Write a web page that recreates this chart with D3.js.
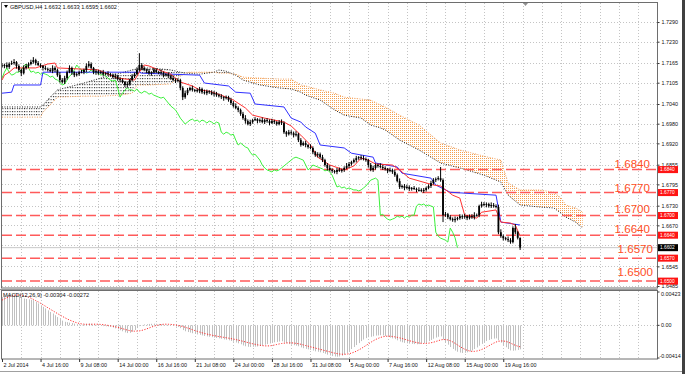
<!DOCTYPE html>
<html><head><meta charset="utf-8">
<script src="https://cdn.jsdelivr.net/npm/d3@7"></script>
<style>
body{margin:0;background:#fff;}
svg{display:block;font-family:"Liberation Sans",Arial,sans-serif;}
</style></head><body>
<svg id="c" width="685" height="374"></svg>
<script>
// ---------------- DATA ----------------
const symbolTitle = "GBPUSD,H4  1.6632 1.6633 1.6595 1.6602";
const macdTitle = "MACD(12,26,9) -0.00304 -0.00272";
const firstOpen = 1.7158;
const closes = [
1.7156,1.7159,1.7153,1.7162,1.7165,1.7168,1.7156,1.7144,1.7134,1.7150,1.7156,1.7162,
1.7168,1.7174,1.7165,1.7159,1.7156,1.7150,1.7147,1.7144,1.7140,1.7150,1.7144,1.7128,
1.7113,1.7107,1.7119,1.7137,1.7150,1.7137,1.7128,1.7131,1.7137,1.7137,1.7144,1.7156,
1.7162,1.7150,1.7137,1.7140,1.7134,1.7137,1.7131,1.7134,1.7131,1.7128,1.7122,1.7125,
1.7116,1.7113,1.7107,1.7098,1.7101,1.7113,1.7125,1.7131,1.7144,1.7159,1.7150,1.7144,
1.7140,1.7134,1.7137,1.7144,1.7137,1.7137,1.7134,1.7128,1.7131,1.7125,1.7119,1.7113,
1.7110,1.7113,1.7089,1.7061,1.7073,1.7083,1.7089,1.7083,1.7083,1.7079,1.7086,1.7076,
1.7073,1.7079,1.7076,1.7070,1.7073,1.7067,1.7064,1.7061,1.7058,1.7061,1.7052,1.7043,
1.7034,1.7028,1.7022,1.7010,1.6997,1.6988,1.6979,1.6985,1.6991,1.6994,1.6988,1.6991,
1.6985,1.6991,1.6988,1.6982,1.6988,1.6985,1.6979,1.6985,1.6982,1.6954,1.6948,1.6954,
1.6951,1.6945,1.6948,1.6930,1.6915,1.6921,1.6915,1.6909,1.6906,1.6893,1.6884,1.6887,
1.6878,1.6869,1.6854,1.6845,1.6839,1.6836,1.6833,1.6839,1.6836,1.6839,1.6845,1.6851,
1.6857,1.6863,1.6869,1.6875,1.6878,1.6875,1.6872,1.6869,1.6854,1.6839,1.6845,1.6854,
1.6851,1.6848,1.6845,1.6842,1.6836,1.6839,1.6833,1.6823,1.6805,1.6787,1.6790,1.6784,
1.6787,1.6781,1.6784,1.6781,1.6778,1.6778,1.6775,1.6778,1.6784,1.6790,1.6799,1.6808,
1.6811,1.6814,1.6808,1.6701,1.6704,1.6695,1.6689,1.6686,1.6689,1.6692,1.6698,1.6695,
1.6698,1.6692,1.6698,1.6695,1.6701,1.6701,1.6729,1.6735,1.6732,1.6735,1.6729,1.6732,
1.6729,1.6726,1.6649,1.6637,1.6631,1.6628,1.6625,1.6619,1.6662,1.6649,1.6632,1.6602];
// upper / lower shadow length beyond the body, in pips
const wickUp = [
6,4,8,5,7,9,3,5,4,8,6,5, 7,9,4,6,5,3,7,4,6,8,5,4, 9,6,7,5,8,4,3,6,5,7,4,8,
9,5,3,6,4,5,7,3,6,4,5,8, 4,6,5,3,7,4,6,5,8,36,6,5, 4,7,3,6,5,4,8,5,3,6,4,7,
5,6,4,5,8,6,4,7,3,5,6,4, 8,5,3,6,7,4,5,6,3,5,4,7, 6,8,5,4,6,9,5,7,4,6,3,5,
8,4,6,5,7,4,3,6,8,5,4,7, 6,5,9,4,6,5,7,3,8,5,4,6, 5,7,4,6,8,5,3,6,7,4,5,9,
6,4,5,7,3,6,8,5,4,6,7,5, 4,8,6,5,3,7,4,6,5,8,4,6, 7,5,3,6,4,8,5,6,4,5,7,6,
5,6,34,5,7,4,6,5,8,4,6,5, 7,3,5,6,9,5,4,7,6,5,4,8, 6,5,7,9,5,4,8,6,5,12,4,1];
const wickDn = [
5,7,4,6,3,5,8,6,9,4,5,6, 4,5,7,3,6,8,4,5,3,6,7,5, 7,4,6,5,3,8,6,4,5,3,6,7,
5,4,6,8,5,3,7,4,6,5,4,6, 5,7,4,6,8,5,4,6,3,5,7,4, 6,5,8,4,3,6,5,7,4,6,5,4,
6,4,7,9,5,6,4,5,7,4,6,5, 4,6,5,3,7,5,4,6,8,4,5,6, 5,4,7,6,5,8,4,6,5,3,7,5,
4,6,5,7,3,6,5,4,6,5,8,4, 5,7,4,6,5,3,7,5,4,6,5,7, 4,6,5,8,4,6,5,7,3,5,6,4,
6,5,4,7,5,6,4,5,8,4,6,5, 5,4,6,5,7,4,6,5,4,6,5,7, 4,6,5,3,7,5,4,6,5,4,6,5,
6,4,5,21,5,6,4,5,7,4,5,6, 5,6,4,5,7,4,6,5,4,7,5,6, 5,4,6,5,7,4,6,5,4,6,5,7];

// Ichimoku lines (bar index, price)
const tenkanIdx = [0,1,3,5,14,19,22,23,40,44,48,55,57,59,61,65,70,74,79,82,86,91,96,101,104,109,117,120,124,128,131,136,142,146,149,152,155,162,165,169,179,182,187,190,192,197,199,205,207,211,213,215];
const tenkanVal = [1.7113,1.7128,1.7137,1.7150,1.7150,1.7162,1.7165,1.7150,1.7144,1.7131,1.7119,1.7113,1.7137,1.7159,1.7156,1.7144,1.7131,1.7107,1.7095,1.7083,1.7079,1.7067,1.7052,1.7028,1.7006,1.6997,1.6985,1.6973,1.6945,1.6915,1.6878,1.6854,1.6839,1.6851,1.6875,1.6869,1.6857,1.6854,1.6839,1.6814,1.6793,1.6790,1.6762,1.6753,1.6701,1.6692,1.6710,1.6717,1.6680,1.6677,1.6671,1.6637];
const kijunIdx = [0,4,5,16,17,57,58,82,84,94,97,103,105,117,120,124,126,130,132,142,145,154,155,164,166,178,180,186,205,207,215];
const kijunVal = [1.7073,1.7076,1.7098,1.7098,1.7137,1.7137,1.7134,1.7128,1.7104,1.7095,1.7076,1.7073,1.7040,1.7031,1.6997,1.6985,1.6970,1.6951,1.6915,1.6906,1.6890,1.6878,1.6860,1.6848,1.6829,1.6814,1.6793,1.6771,1.6762,1.6680,1.6671];
const senkouIdx = [0,16,17,20,23,34,41,49,54,56,61,70,74,77,82,88,90,93,97,100,107,115,120,124,126,132,138,142,149,153,157,159,165,173,182,190,200,207,210,215,223,229,232,234,238,241];
const senkouA = [1.7031,1.7031,1.7037,1.7061,1.7083,1.7104,1.7119,1.7134,1.7144,1.7147,1.7150,1.7144,1.7137,1.7134,1.7131,1.7137,1.7144,1.7140,1.7128,1.7113,1.7098,1.7089,1.7086,1.7076,1.7067,1.7052,1.7022,1.7006,1.6997,1.6976,1.6967,1.6961,1.6930,1.6900,1.6860,1.6845,1.6823,1.6802,1.6762,1.6732,1.6726,1.6723,1.6707,1.6695,1.6680,1.6662];
const senkouB = [1.7000,1.7000,1.7015,1.7037,1.7061,1.7064,1.7064,1.7067,1.7073,1.7098,1.7098,1.7101,1.7125,1.7137,1.7137,1.7137,1.7134,1.7134,1.7131,1.7122,1.7119,1.7116,1.7116,1.7098,1.7095,1.7083,1.7073,1.7061,1.7055,1.7052,1.7037,1.7031,1.7006,1.6976,1.6921,1.6900,1.6881,1.6869,1.6799,1.6778,1.6778,1.6771,1.6753,1.6732,1.6723,1.6710];
const chikouShift = 26;

// MACD
const macdMain = [
0.00360,0.00372,0.00385,0.00395,0.00400,0.00392,0.00380,0.00362,0.00348,0.00340,0.00335,0.00330,
0.00325,0.00320,0.00300,0.00278,0.00255,0.00235,0.00215,0.00190,0.00170,0.00150,0.00128,0.00105,
0.00080,0.00060,0.00045,0.00040,0.00035,0.00030,0.00022,0.00015,0.00010,0.00008,0.00012,0.00020,
0.00025,0.00020,0.00012,0.00005,0.00000,-0.00005,-0.00010,-0.00012,-0.00015,-0.00020,-0.00028,-0.00038,
-0.00050,-0.00062,-0.00075,-0.00090,-0.00098,-0.00095,-0.00080,-0.00060,-0.00035,-0.00010,0.00005,0.00012,
0.00015,0.00018,0.00020,0.00022,0.00020,0.00018,0.00015,0.00012,0.00008,0.00004,0.00000,-0.00008,
-0.00015,-0.00020,-0.00035,-0.00060,-0.00075,-0.00085,-0.00092,-0.00100,-0.00108,-0.00115,-0.00120,-0.00128,
-0.00135,-0.00140,-0.00145,-0.00150,-0.00155,-0.00160,-0.00165,-0.00170,-0.00178,-0.00182,-0.00190,-0.00198,
-0.00208,-0.00218,-0.00228,-0.00240,-0.00255,-0.00265,-0.00272,-0.00275,-0.00272,-0.00270,-0.00268,-0.00262,
-0.00255,-0.00245,-0.00238,-0.00230,-0.00222,-0.00215,-0.00210,-0.00205,-0.00202,-0.00215,-0.00228,-0.00238,
-0.00245,-0.00252,-0.00258,-0.00265,-0.00280,-0.00290,-0.00298,-0.00305,-0.00312,-0.00320,-0.00330,-0.00335,
-0.00342,-0.00350,-0.00360,-0.00372,-0.00382,-0.00390,-0.00395,-0.00398,-0.00395,-0.00385,-0.00370,-0.00350,
-0.00325,-0.00300,-0.00275,-0.00250,-0.00225,-0.00200,-0.00180,-0.00162,-0.00150,-0.00145,-0.00138,-0.00130,
-0.00128,-0.00125,-0.00128,-0.00135,-0.00145,-0.00155,-0.00165,-0.00175,-0.00190,-0.00205,-0.00215,-0.00222,
-0.00228,-0.00232,-0.00235,-0.00238,-0.00240,-0.00238,-0.00232,-0.00225,-0.00215,-0.00200,-0.00185,-0.00170,
-0.00155,-0.00145,-0.00140,-0.00180,-0.00215,-0.00245,-0.00275,-0.00300,-0.00320,-0.00335,-0.00345,-0.00350,
-0.00348,-0.00342,-0.00332,-0.00318,-0.00300,-0.00280,-0.00258,-0.00235,-0.00215,-0.00198,-0.00185,-0.00175,
-0.00168,-0.00165,-0.00190,-0.00220,-0.00250,-0.00278,-0.00300,-0.00318,-0.00322,-0.00318,-0.00312,-0.00304];
const macdSignal = [
0.00320,0.00335,0.00350,0.00362,0.00372,0.00380,0.00384,0.00385,0.00382,0.00376,0.00368,0.00358,
0.00345,0.00330,0.00314,0.00298,0.00280,0.00262,0.00243,0.00224,0.00205,0.00187,0.00168,0.00150,
0.00132,0.00115,0.00098,0.00082,0.00068,0.00055,0.00043,0.00033,0.00025,0.00019,0.00015,0.00013,
0.00013,0.00014,0.00015,0.00015,0.00014,0.00012,0.00009,0.00005,0.00000,-0.00005,-0.00011,-0.00018,
-0.00025,-0.00033,-0.00042,-0.00051,-0.00060,-0.00067,-0.00072,-0.00074,-0.00073,-0.00070,-0.00064,-0.00055,
-0.00045,-0.00034,-0.00022,-0.00011,-0.00002,0.00005,0.00010,0.00014,0.00015,0.00014,0.00012,0.00009,
0.00005,0.00000,-0.00006,-0.00015,-0.00024,-0.00034,-0.00044,-0.00055,-0.00066,-0.00076,-0.00085,-0.00094,
-0.00102,-0.00110,-0.00117,-0.00124,-0.00130,-0.00136,-0.00142,-0.00147,-0.00152,-0.00157,-0.00162,-0.00168,
-0.00174,-0.00180,-0.00187,-0.00194,-0.00202,-0.00210,-0.00218,-0.00226,-0.00233,-0.00240,-0.00246,-0.00252,
-0.00257,-0.00260,-0.00261,-0.00260,-0.00256,-0.00250,-0.00243,-0.00236,-0.00230,-0.00226,-0.00223,-0.00222,
-0.00222,-0.00224,-0.00228,-0.00233,-0.00240,-0.00248,-0.00256,-0.00264,-0.00272,-0.00280,-0.00288,-0.00296,
-0.00304,-0.00312,-0.00320,-0.00328,-0.00336,-0.00344,-0.00352,-0.00358,-0.00363,-0.00366,-0.00367,-0.00365,
-0.00360,-0.00352,-0.00341,-0.00328,-0.00312,-0.00295,-0.00276,-0.00256,-0.00236,-0.00216,-0.00197,-0.00180,
-0.00166,-0.00154,-0.00145,-0.00139,-0.00137,-0.00138,-0.00141,-0.00146,-0.00152,-0.00159,-0.00167,-0.00176,
-0.00185,-0.00194,-0.00203,-0.00211,-0.00218,-0.00224,-0.00228,-0.00230,-0.00229,-0.00226,-0.00221,-0.00214,
-0.00205,-0.00195,-0.00185,-0.00180,-0.00180,-0.00185,-0.00195,-0.00210,-0.00228,-0.00248,-0.00268,-0.00287,
-0.00303,-0.00316,-0.00325,-0.00330,-0.00330,-0.00326,-0.00318,-0.00307,-0.00293,-0.00277,-0.00260,-0.00243,
-0.00226,-0.00212,-0.00202,-0.00198,-0.00198,-0.00203,-0.00212,-0.00225,-0.00240,-0.00253,-0.00264,-0.00272];

// levels, axes
const levels = [1.6840, 1.6770, 1.6700, 1.6640, 1.6570, 1.6500];
const levelLabels = ["1.6840","1.6770","1.6700","1.6640","1.6570","1.6500"];
const gridTicks = [1.7290,1.7230,1.7165,1.7105,1.7040,1.6980,1.6920,1.6855,1.6795,1.6730,1.6670,1.6610,1.6545,1.6485];
const priceTicks = [1.7290,1.7230,1.7165,1.7105,1.7040,1.6980,1.6920,1.6855,1.6795,1.6730,1.6670,1.6545,1.6485];
const lastPrice = 1.6602;
const macdTicks = [0.00423, 0, -0.00414];
const macdTickLabels = ["0.00423","0.00","-0.00414"];
const timeBars = [0,16,32,48,64,80,96,112,128,144,160,176,192,208];
const timeLabels = ["2 Jul 2014","4 Jul 16:00","9 Jul 08:00","14 Jul 00:00","16 Jul 16:00","21 Jul 08:00","24 Jul 00:00","28 Jul 16:00","31 Jul 08:00","5 Aug 00:00","7 Aug 16:00","12 Aug 08:00","15 Aug 00:00","19 Aug 16:00"];

// ---------------- LAYOUT ----------------
const L = 2, R = 657.5, T = 3, B = 288, mT = 291, mB = 359;
const svg = d3.select('#c');
const x = d3.scaleLinear().domain([0, 272]).range([L, R]);
const y = d3.scaleLinear().domain([1.6479, 1.7348]).range([B, T]);
const yM = d3.scaleLinear().domain([-0.00414, 0.00423]).range([358, 292]);

const opens = closes.map((c,i)=> i===0 ? firstOpen : closes[i-1]);
const bars = closes.map((c,i)=>{
  const o = opens[i];
  return {i, o, c, h: Math.max(o,c) + wickUp[i]*0.0001, l: Math.min(o,c) - wickDn[i]*0.0001};
});

const defs = svg.append('defs');
const pO = defs.append('pattern').attr('id','hatchO').attr('patternUnits','userSpaceOnUse').attr('width',2).attr('height',2);
pO.append('rect').attr('width',2).attr('height',2).attr('fill','#ffffff');
pO.append('rect').attr('width',1).attr('height',1).attr('fill','#f4a050');
const pK = defs.append('pattern').attr('id','hatchK').attr('patternUnits','userSpaceOnUse').attr('width',2.41).attr('height',3);
pK.append('rect').attr('width',1).attr('height',1.2).attr('fill','#333');

defs.append('clipPath').attr('id','clipMain').append('rect').attr('x',L).attr('y',T).attr('width',R-L).attr('height',B-T);
defs.append('clipPath').attr('id','clipMacd').append('rect').attr('x',L).attr('y',mT).attr('width',R-L).attr('height',mB-mT);
const cloud = senkouIdx.map((d,k)=>({i:d, a:senkouA[k], b:senkouB[k]}));
defs.append('clipPath').attr('id','clipAbove').append('path')
  .attr('d', d3.area().x(d=>x(d.i)).y0(T-5).y1(d=>y(d.b))(cloud));
defs.append('clipPath').attr('id','clipBelow').append('path')
  .attr('d', d3.area().x(d=>x(d.i)).y0(d=>y(d.b)).y1(B+5)(cloud));

svg.append('rect').attr('width',685).attr('height',374).attr('fill','#fff');

const gridColor = '#c4c4c4';
const vGrid = d3.range(8, 272, 8);
svg.append('g').selectAll('line').data(vGrid).join('line')
  .attr('x1',d=>Math.round(x(d))+0.5).attr('x2',d=>Math.round(x(d))+0.5).attr('y1',T).attr('y2',B)
  .attr('stroke',gridColor).attr('stroke-dasharray','1,2');
svg.append('g').selectAll('line').data(vGrid).join('line')
  .attr('x1',d=>Math.round(x(d))+0.5).attr('x2',d=>Math.round(x(d))+0.5).attr('y1',mT).attr('y2',mB)
  .attr('stroke',gridColor).attr('stroke-dasharray','1,2');
svg.append('g').selectAll('line').data(gridTicks).join('line')
  .attr('x1',L).attr('x2',R).attr('y1',d=>Math.round(y(d))+0.5).attr('y2',d=>Math.round(y(d))+0.5)
  .attr('stroke',gridColor).attr('stroke-dasharray','1,2');
svg.append('line').attr('x1',L).attr('x2',R).attr('y1',Math.round(yM(0))+0.5).attr('y2',Math.round(yM(0))+0.5)
  .attr('stroke',gridColor).attr('stroke-dasharray','1,2');

const main = svg.append('g').attr('clip-path','url(#clipMain)');
const abArea = d3.area().x(d=>x(d.i)).y0(d=>y(d.a)).y1(d=>y(d.b));
main.append('g').attr('clip-path','url(#clipAbove)').append('path').attr('d',abArea(cloud)).attr('fill','url(#hatchK)');
main.append('g').attr('clip-path','url(#clipBelow)').append('path').attr('d',abArea(cloud)).attr('fill','url(#hatchO)');
const lineIV = d3.line().x(d=>x(d[0])).y(d=>y(d[1]));
main.append('path').attr('d', lineIV(senkouIdx.map((d,k)=>[d,senkouB[k]])))
  .attr('fill','none').attr('stroke','#f4a460').attr('stroke-width',1).attr('stroke-dasharray','1,1.5');
main.append('path').attr('d', lineIV(senkouIdx.map((d,k)=>[d,senkouA[k]])))
  .attr('fill','none').attr('stroke','#222').attr('stroke-width',1).attr('stroke-dasharray','1,1.5');

main.append('g').selectAll('line').data(levels).join('line')
  .attr('x1',L).attr('x2',R).attr('y1',d=>y(d)).attr('y2',d=>y(d))
  .attr('stroke','#ff5a5a').attr('stroke-width',1.5).attr('stroke-dasharray','10,4');
main.append('line').attr('x1',L).attr('x2',R).attr('y1',y(lastPrice)).attr('y2',y(lastPrice))
  .attr('stroke','#c8c8c8').attr('stroke-width',1);

main.append('path').attr('d', lineIV(closes.slice(chikouShift).map((c,k)=>[k,c])))
  .attr('fill','none').attr('stroke','#3cf03c').attr('stroke-width',1);
main.append('path').attr('d', lineIV(kijunIdx.map((d,k)=>[d,kijunVal[k]])))
  .attr('fill','none').attr('stroke','#3030ff').attr('stroke-width',1);
main.append('path').attr('d', lineIV(tenkanIdx.map((d,k)=>[d,tenkanVal[k]])))
  .attr('fill','none').attr('stroke','#ff3030').attr('stroke-width',1);

const cg = main.append('g');
cg.selectAll('line').data(bars).join('line')
  .attr('x1',d=>x(d.i)).attr('x2',d=>x(d.i)).attr('y1',d=>y(d.h)).attr('y2',d=>y(d.l))
  .attr('stroke','#000').attr('stroke-width',1);
cg.selectAll('rect').data(bars).join('rect')
  .attr('x',d=>x(d.i)-0.9).attr('width',1.8)
  .attr('y',d=>y(Math.max(d.o,d.c))).attr('height',d=>Math.max(1, y(Math.min(d.o,d.c))-y(Math.max(d.o,d.c))))
  .attr('fill','#000');

const lvlNudge = [-2,-1,-3,-2,-5,-5];
const lvlEnd = [650,650,650,650,653,653];
svg.append('g').selectAll('text').data(levels).join('text')
  .attr('x',(d,k)=>lvlEnd[k]).attr('y',(d,k)=>y(d)+lvlNudge[k])
  .attr('text-anchor','end').attr('font-size','11.6px').attr('fill','#ff4f1f')
  .text((d,k)=>levelLabels[k]);

const mg = svg.append('g').attr('clip-path','url(#clipMacd)');
mg.selectAll('line').data(macdMain).join('line')
  .attr('x1',(d,i)=>Math.round(x(i))+0.5).attr('x2',(d,i)=>Math.round(x(i))+0.5)
  .attr('y1',yM(0)).attr('y2',d=>yM(d))
  .attr('stroke','#c0c0c0').attr('stroke-width',1);
mg.append('path').attr('d', d3.line().x((d,i)=>x(i)).y(d=>yM(d))(macdSignal))
  .attr('fill','none').attr('stroke','#ff3030').attr('stroke-width',1).attr('stroke-dasharray','1.2,1.5');

svg.append('rect').attr('x',1.5).attr('y',2.5).attr('width',R-1.5).attr('height',B-2.5)
  .attr('fill','none').attr('stroke','#6e6e6e');
svg.append('rect').attr('x',1.5).attr('y',290.5).attr('width',R-1.5).attr('height',mB-290.5)
  .attr('fill','none').attr('stroke','#6e6e6e');
svg.append('line').attr('x1',0).attr('x2',R).attr('y1',289.5).attr('y2',289.5).attr('stroke','#9a9a9a');

const ya = svg.append('g').attr('transform',`translate(${R},0)`)
  .call(d3.axisRight(y).tickValues(priceTicks).tickFormat(d3.format('.4f')).tickSize(2).tickPadding(2));
ya.select('.domain').remove();
ya.selectAll('text').attr('font-size','5.4px').attr('font-family','"Liberation Sans",Arial,sans-serif').attr('fill','#111');
ya.selectAll('line').attr('stroke','#333');

const lb = svg.append('g');
lb.selectAll('rect').data(levels).join('rect')
  .attr('x',R+0.5).attr('y',d=>y(d)-3.5).attr('width',20).attr('height',7).attr('fill','#ff1414');
lb.selectAll('text').data(levels).join('text')
  .attr('x',R+2.5).attr('y',d=>y(d)).attr('dy','0.35em').attr('font-size','4.8px').attr('fill','#fff')
  .text((d,k)=>levelLabels[k]);
svg.append('rect').attr('x',R+0.5).attr('y',y(lastPrice)-3.5).attr('width',20).attr('height',7).attr('fill','#000');
svg.append('text').attr('x',R+2.5).attr('y',y(lastPrice)).attr('dy','0.35em').attr('font-size','4.8px').attr('fill','#fff')
  .text(d3.format('.4f')(lastPrice));

const mNudge = [2,0,-2];
svg.append('g').selectAll('text').data(macdTicks).join('text')
  .attr('x',(d,k)=> k===2 ? R+2 : R+3.5).attr('y',(d,k)=>yM(d)+mNudge[k]).attr('dy','0.35em')
  .attr('font-size','5.4px').attr('fill','#111').text((d,k)=>macdTickLabels[k]);
svg.append('g').selectAll('line').data(macdTicks).join('line')
  .attr('x1',R).attr('x2',R+2).attr('y1',d=>yM(d)).attr('y2',d=>yM(d)).attr('stroke','#333');

const xa = svg.append('g').attr('transform',`translate(0,${mB})`)
  .call(d3.axisBottom(x).tickValues(timeBars).tickFormat((d,k)=>timeLabels[k]).tickSize(3));
xa.select('.domain').remove();
xa.selectAll('text').attr('text-anchor','start').attr('x',1).attr('y',4)
  .attr('font-size','5.4px').attr('font-family','"Liberation Sans",Arial,sans-serif').attr('fill','#111');
xa.selectAll('line').attr('stroke','#333');

svg.append('path').attr('d','M4,5 L8,5 L6,8 Z').attr('fill','#000');
svg.append('text').attr('x',10).attr('y',7).attr('dy','0.35em').attr('font-size','5.6px').attr('fill','#111').text(symbolTitle);
svg.append('text').attr('x',3).attr('y',295).attr('dy','0.35em').attr('font-size','5.6px').attr('fill','#111').text(macdTitle);
svg.append('path').attr('d','M523,3 L528,3 L525.5,6 Z').attr('fill','#909090');

svg.append('rect').attr('x',682).attr('y',0).attr('width',3).attr('height',374).attr('fill','#404040');
svg.append('line').attr('x1',0).attr('x2',682).attr('y1',371.5).attr('y2',371.5).attr('stroke','#a0a0a0');
</script>
</body></html>
